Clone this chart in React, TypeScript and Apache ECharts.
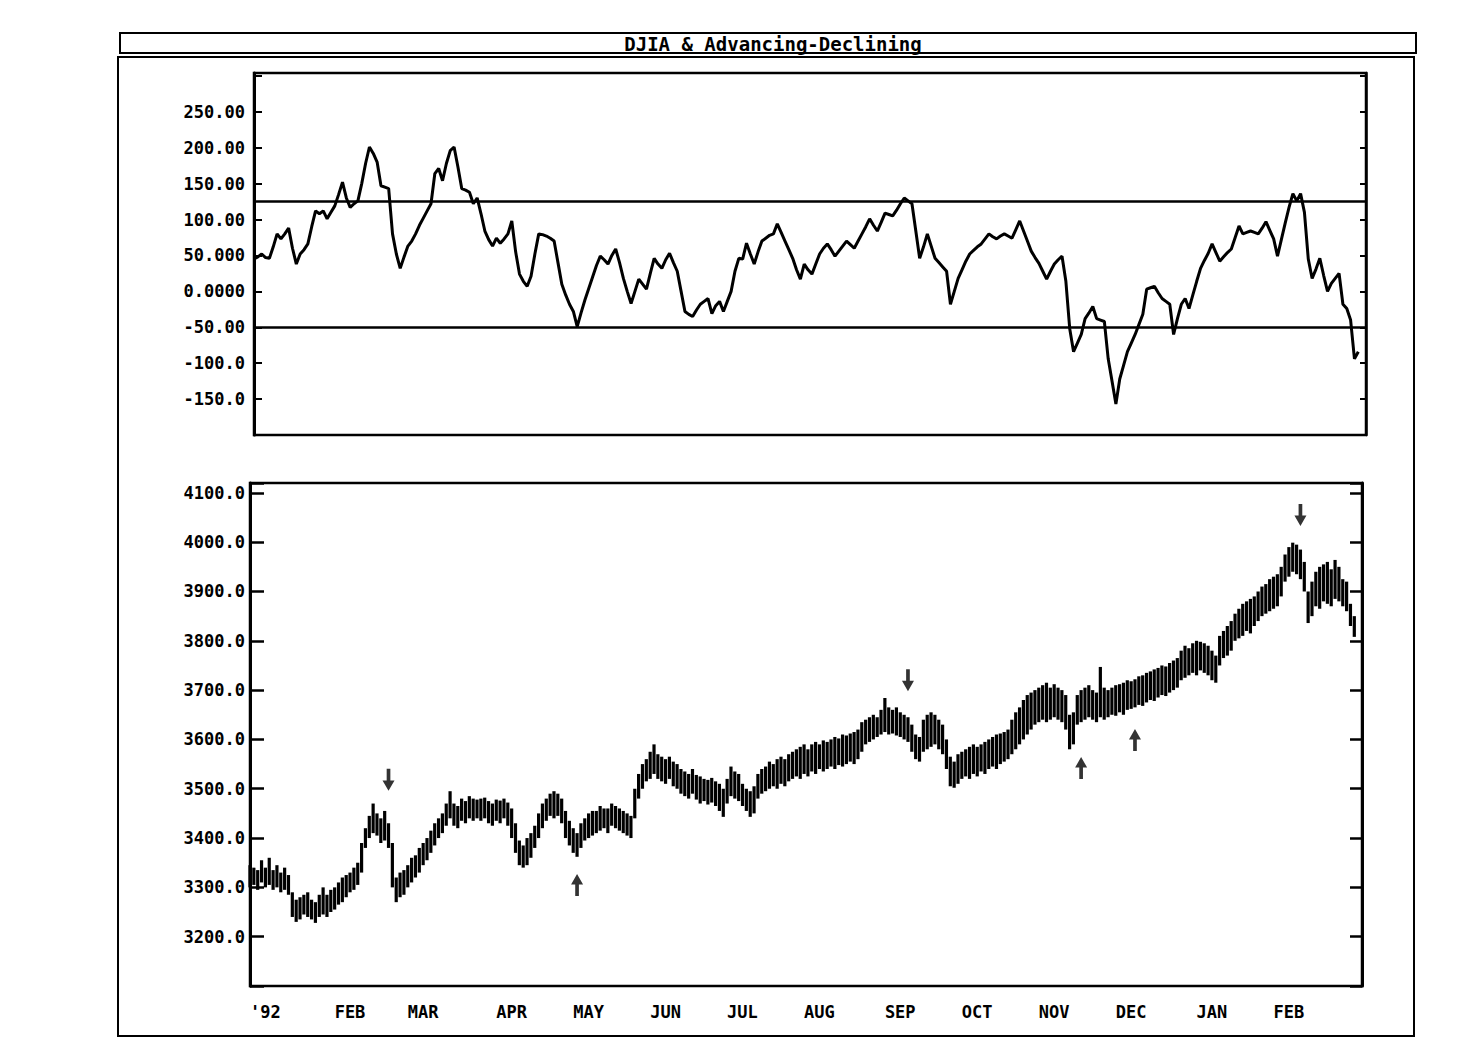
import React, { useEffect, useRef } from 'react';
import * as echarts from 'echarts';

// ---------- axis / label data ----------
const monthLabels = ["'92", 'FEB', 'MAR', 'APR', 'MAY', 'JUN', 'JUL', 'AUG', 'SEP', 'OCT', 'NOV', 'DEC', 'JAN', 'FEB'];
const monthStartDay = [0, 22, 41, 64, 84, 104, 124, 144, 165, 185, 205, 225, 246, 266];
const dayCount = 290;

const adTickValues = [250, 200, 150, 100, 50, 0, -50, -100, -150];
const adTickLabels = ['250.00', '200.00', '150.00', '100.00', '50.000', '0.0000', '-50.00', '-100.0', '-150.0'];
const adBands = [125, -50];

const djiaTickValues = [4100, 4000, 3900, 3800, 3700, 3600, 3500, 3400, 3300, 3200];
const djiaTickLabels = ['4100.0', '4000.0', '3900.0', '3800.0', '3700.0', '3600.0', '3500.0', '3400.0', '3300.0', '3200.0'];

// ---------- series data (one value per trading day) ----------
const adLine = [
  45, 48, 52, 47, 46, 62, 80, 73, 80, 88,
  60, 38, 52, 58, 66, 90, 112, 108, 112, 101,
  110, 119, 135, 152, 130, 117, 122, 126, 150, 178,
  201, 192, 180, 147, 145, 143, 80, 52, 32, 48,
  63, 70, 80, 92, 102, 112, 122, 164, 171, 154,
  178, 196, 201, 173, 143, 141, 138, 122, 130, 108,
  84, 72, 63, 74, 67, 73, 80, 98, 55, 24,
  14, 7, 21, 52, 80, 79, 77, 74, 70, 40,
  10, -5, -18, -28, -49, -30, -12, 4, 20, 36,
  49, 44, 38, 50, 59, 40, 18, 0, -17, 0,
  17, 10, 3, 25, 46, 38, 32, 44, 53, 40,
  28, 0, -28, -32, -35, -26, -18, -14, -10, -31,
  -20, -14, -28, -14, 0, 28, 46, 45, 67, 52,
  38, 55, 70, 74, 78, 80, 94, 82, 70, 58,
  46, 30, 17, 38, 30, 24, 38, 52, 60, 66,
  58, 49, 56, 63, 70, 65, 60, 70, 80, 90,
  101, 92, 84, 96, 109, 107, 105, 113, 122, 130,
  126, 122, 84, 46, 62, 80, 63, 46, 40, 34,
  28, -18, 0, 18, 30, 42, 52, 57, 62, 66,
  73, 80, 76, 73, 77, 80, 77, 74, 86, 98,
  84, 70, 56, 47, 39, 28, 17, 28, 38, 44,
  49, 14, -52, -84, -72, -60, -38, -30, -21, -38,
  -40, -42, -94, -125, -157, -122, -103, -84, -72, -60,
  -46, -32, 3, 5, 7, -2, -10, -14, -18, -60,
  -38, -18, -10, -24, -5, 14, 32, 43, 53, 66,
  54, 42, 48, 54, 59, 75, 91, 80, 82, 84,
  82, 80, 88, 97, 85, 73, 49, 72, 95, 117,
  136, 126, 136, 110, 45, 18, 31, 46, 22, 0,
  11, 18, 25, -18, -24, -40, -94, -84,
];

const djiaLow = [
  3300, 3305, 3295, 3310, 3300, 3305, 3295, 3300, 3290, 3295,
  3285, 3240, 3230, 3235, 3245, 3240, 3235, 3228, 3240, 3245,
  3240, 3250, 3255, 3265, 3270, 3280, 3290, 3295, 3305, 3330,
  3380, 3400, 3410, 3405, 3390, 3395, 3380, 3300, 3270, 3280,
  3285, 3300, 3310, 3320, 3330, 3345, 3355, 3370, 3385, 3400,
  3410, 3425, 3440, 3425, 3420, 3435, 3430, 3440, 3435, 3440,
  3435, 3440, 3430, 3425, 3435, 3430, 3440, 3425, 3400, 3370,
  3345, 3340, 3345, 3360, 3380, 3400, 3420, 3435, 3445, 3440,
  3445, 3430, 3400, 3385, 3370, 3362, 3380, 3395, 3400, 3405,
  3410, 3415, 3420, 3410, 3425, 3420, 3415, 3410, 3405, 3400,
  3440, 3480, 3500, 3515, 3520, 3530, 3520, 3515, 3510, 3520,
  3505, 3500, 3490, 3485, 3480, 3490, 3478, 3470, 3475, 3468,
  3472, 3465, 3455, 3443, 3470, 3485, 3480, 3475, 3465, 3455,
  3443, 3450, 3480, 3490, 3495, 3500, 3505, 3500, 3510, 3505,
  3515, 3520, 3525, 3520, 3530, 3525, 3535, 3530, 3540, 3535,
  3540, 3545, 3540, 3548, 3545, 3550, 3555, 3550, 3560, 3575,
  3590, 3595, 3600, 3605, 3610, 3615, 3610, 3612, 3608, 3605,
  3600, 3595, 3575, 3560, 3555, 3575, 3580, 3585, 3590, 3580,
  3570, 3540, 3505, 3502, 3510, 3520, 3525, 3520, 3530, 3525,
  3535, 3530, 3540, 3545, 3540, 3550, 3555, 3560, 3570, 3580,
  3590, 3600, 3610, 3620, 3630, 3635, 3640, 3635, 3640, 3645,
  3640, 3635, 3620, 3580, 3590, 3630, 3635, 3640, 3645, 3640,
  3635, 3645, 3640, 3645, 3650, 3648, 3655, 3650, 3660, 3662,
  3665, 3670, 3668, 3675, 3680, 3678, 3685, 3690, 3688, 3695,
  3700, 3705, 3720, 3725, 3730, 3735, 3730, 3740, 3735, 3730,
  3720, 3715, 3750, 3765, 3770, 3780, 3800, 3805, 3810, 3820,
  3815, 3830, 3840, 3850, 3855, 3860, 3865, 3870, 3890, 3920,
  3930, 3940, 3935, 3925, 3900, 3836, 3850, 3870, 3865, 3880,
  3875, 3870, 3885, 3880, 3870, 3860, 3830, 3808,
];

const djiaHigh = [
  3345, 3340, 3335, 3355, 3340, 3360, 3335, 3345, 3330, 3340,
  3325, 3290, 3275, 3280, 3285, 3290, 3275, 3270, 3285, 3300,
  3285, 3295, 3300, 3310, 3320, 3325, 3330, 3340, 3350, 3390,
  3420, 3445, 3470, 3450, 3440, 3455, 3430, 3390, 3320, 3330,
  3335, 3345, 3360, 3365, 3380, 3390, 3400, 3415, 3430, 3440,
  3450, 3470, 3495, 3470, 3465, 3480, 3475, 3485, 3480, 3478,
  3480, 3482, 3475, 3470, 3478, 3476, 3480, 3472, 3460, 3430,
  3395, 3385, 3400, 3410, 3425, 3450, 3470, 3480, 3490, 3495,
  3490, 3480, 3455, 3435, 3420, 3410, 3430, 3440, 3450, 3455,
  3455, 3465, 3460, 3460, 3470, 3465, 3460, 3455, 3450, 3445,
  3500, 3530, 3550, 3560, 3575, 3590, 3570, 3565, 3560, 3565,
  3555, 3550, 3540, 3535, 3530, 3540, 3528, 3525, 3520, 3518,
  3522, 3515, 3510, 3500, 3520, 3545, 3535, 3530, 3510, 3500,
  3495, 3505, 3530, 3540, 3545, 3555, 3550, 3560, 3565, 3560,
  3570, 3575, 3580, 3585, 3590, 3580, 3590, 3595, 3590, 3598,
  3595, 3600, 3605, 3602, 3610, 3608, 3612, 3615, 3620, 3635,
  3640, 3645, 3650, 3645, 3660, 3684, 3665, 3660, 3665, 3655,
  3650, 3645, 3630, 3610, 3605, 3640, 3650, 3655, 3650, 3640,
  3630, 3600, 3565, 3555, 3570, 3575, 3580, 3585, 3590, 3585,
  3590, 3595, 3600, 3605, 3610, 3612, 3615, 3620, 3640, 3655,
  3665, 3680, 3690, 3695, 3700, 3705, 3710, 3715, 3705, 3712,
  3705, 3700, 3690, 3650, 3655, 3690, 3700, 3705, 3710, 3700,
  3695, 3747, 3705, 3700, 3705, 3710, 3712, 3715, 3720, 3718,
  3722, 3728, 3730, 3735, 3738, 3742, 3745, 3750, 3748, 3755,
  3760, 3765, 3780, 3790, 3785, 3795, 3800, 3798, 3795, 3790,
  3780, 3770, 3810, 3820, 3830, 3840, 3855, 3865, 3875, 3880,
  3885, 3890, 3900, 3910, 3915, 3925, 3930, 3935, 3950, 3975,
  3990, 3999, 3995, 3985, 3960, 3900, 3920, 3940, 3950, 3955,
  3960, 3945, 3964, 3950, 3925, 3920, 3875, 3850,
];

// signal arrows drawn on the DJIA panel
const arrowDay = [36, 171, 273, 85, 216, 230];
const arrowLevel = [3518, 3720, 4055, 3305, 3542, 3599];
const arrowDir = ['down', 'down', 'down', 'up', 'up', 'up'];

const FONT = 'DejaVu Sans Mono';
const ARROW_PATH = 'path://M3.5,0L7.5,0L7.5,11L12,11L5.5,21L-1,11L3.5,11Z';

export default function App() {
  const ref = useRef<HTMLDivElement>(null);

  useEffect(() => {
    document.body.style.margin = '0';
    if (!ref.current) return;
    const chart = echarts.init(ref.current, undefined, { renderer: 'svg' });

    const categories = Array.from({ length: dayCount }, (_, i) => String(i));
    const labelAt = (idx: number) => {
      const k = monthStartDay.indexOf(idx);
      return k >= 0 ? monthLabels[k] : '';
    };
    const adFmt = (v: number) => {
      const k = adTickValues.indexOf(Math.round(v));
      return k >= 0 && Math.abs(v - Math.round(v)) < 1e-6 ? adTickLabels[k] : '';
    };
    const djFmt = (v: number) => {
      const k = djiaTickValues.indexOf(Math.round(v));
      return k >= 0 && Math.abs(v - Math.round(v)) < 1e-6 ? djiaTickLabels[k] : '';
    };

    const labelStyle = {
      fontFamily: FONT,
      fontWeight: 'bold' as const,
      fontSize: 17,
      color: '#000',
    };

    const option: any = {
      animation: false,
      backgroundColor: '#fff',
      grid: [
        { left: 254, top: 73, width: 1112, height: 362, show: true, borderColor: '#000', borderWidth: 2.5, backgroundColor: 'transparent' },
        { left: 250, top: 483, width: 1112, height: 503, show: true, borderColor: '#000', borderWidth: 2.5, backgroundColor: 'transparent' },
      ],
      xAxis: [
        {
          gridIndex: 0, type: 'category', data: categories, boundaryGap: false,
          axisLine: { show: false }, axisTick: { show: false }, axisLabel: { show: false }, splitLine: { show: false },
        },
        {
          gridIndex: 1, type: 'category', data: categories, boundaryGap: false,
          axisLine: { show: false }, axisTick: { show: false }, splitLine: { show: false },
          axisLabel: {
            ...labelStyle,
            margin: 17,
            align: 'left',
            interval: (idx: number) => monthStartDay.indexOf(idx) >= 0,
            formatter: (_v: string, idx: number) => labelAt(idx),
          },
        },
      ],
      yAxis: [
        {
          gridIndex: 0, type: 'value', position: 'left', min: -200, max: 304, interval: 50,
          axisLine: { show: true, lineStyle: { color: '#000', width: 3 } },
          axisTick: { show: true, inside: true, length: 8, lineStyle: { color: '#000', width: 2 } },
          splitLine: { show: false },
          axisLabel: { ...labelStyle, margin: 9, formatter: adFmt },
        },
        {
          gridIndex: 0, type: 'value', position: 'right', min: -200, max: 304, interval: 50,
          axisLine: { show: true, lineStyle: { color: '#000', width: 2.5 } },
          axisTick: { show: true, inside: true, length: 6, lineStyle: { color: '#000', width: 2 } },
          splitLine: { show: false },
          axisLabel: { show: false },
        },
        {
          gridIndex: 1, type: 'value', position: 'left', min: 3100, max: 4120, interval: 100,
          axisLine: { show: true, lineStyle: { color: '#000', width: 3 } },
          axisTick: { show: true, inside: true, length: 14, lineStyle: { color: '#000', width: 2.5 } },
          splitLine: { show: false },
          axisLabel: { ...labelStyle, margin: 5, formatter: djFmt },
        },
        {
          gridIndex: 1, type: 'value', position: 'right', min: 3100, max: 4120, interval: 100,
          axisLine: { show: true, lineStyle: { color: '#000', width: 3 } },
          axisTick: { show: true, inside: true, length: 12, lineStyle: { color: '#000', width: 2.5 } },
          splitLine: { show: false },
          axisLabel: { show: false },
        },
      ],
      series: [
        {
          type: 'line',
          xAxisIndex: 0,
          yAxisIndex: 0,
          data: adLine,
          showSymbol: false,
          symbol: 'none',
          lineStyle: { color: '#000', width: 3 },
          markLine: {
            silent: true,
            symbol: ['none', 'none'],
            label: { show: false },
            lineStyle: { color: '#000', width: 2.5, type: 'solid' },
            data: adBands.map((v) => ({ yAxis: v })),
          },
        },
        {
          type: 'custom',
          xAxisIndex: 1,
          yAxisIndex: 2,
          data: djiaLow.map((lo, i) => [i, lo, djiaHigh[i]]),
          encode: { x: 0, y: [1, 2] },
          renderItem: (_params: any, api: any) => {
            const a = api.coord([api.value(0), api.value(1)]);
            const b = api.coord([api.value(0), api.value(2)]);
            return {
              type: 'line',
              shape: { x1: a[0], y1: a[1], x2: b[0], y2: b[1] },
              style: { stroke: '#000', lineWidth: 3.2 },
            };
          },
        },
        {
          type: 'scatter',
          xAxisIndex: 1,
          yAxisIndex: 2,
          symbol: ARROW_PATH,
          symbolSize: [12, 22],
          itemStyle: { color: '#000' },
          data: arrowDay.map((d, i) => ({
            value: [d, arrowLevel[i]],
            symbolRotate: arrowDir[i] === 'up' ? 180 : 0,
          })),
        },
      ],
      graphic: [
        {
          type: 'rect',
          shape: { x: 118, y: 57, width: 1296, height: 979 },
          style: { fill: 'none', stroke: '#000', lineWidth: 2 },
          silent: true,
        },
        {
          type: 'rect',
          shape: { x: 120, y: 33, width: 1296, height: 20 },
          style: { fill: 'none', stroke: '#000', lineWidth: 2 },
          silent: true,
        },
        {
          type: 'text',
          x: 773,
          y: 44,
          style: {
            text: 'DJIA & Advancing-Declining',
            fontFamily: FONT,
            fontSize: 19,
            fontWeight: 'bold',
            fill: '#000',
            align: 'center',
            verticalAlign: 'middle',
            textAlign: 'center',
            textVerticalAlign: 'middle',
          },
          silent: true,
        },
      ],
    };

    chart.setOption(option);
    return () => chart.dispose();
  }, []);

  return <div ref={ref} style={{ width: 1465, height: 1050, position: 'absolute', left: 0, top: 0 }} />;
}
